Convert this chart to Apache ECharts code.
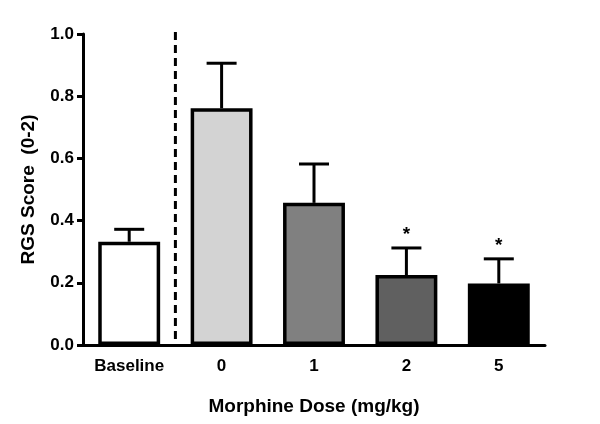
<!DOCTYPE html>
<html>
<head>
<meta charset="utf-8">
<script src="https://cdn.jsdelivr.net/npm/echarts@6/dist/echarts.min.js"></script>
<style>
  html, body { margin: 0; padding: 0; background: #fff; }
  #chart { width: 600px; height: 424px; }
</style>
</head>
<body>
<div id="chart"></div>
<script>
// data
const categories = ["Baseline", "0", "1", "2", "5"];
const means = [0.332, 0.761, 0.457, 0.225, 0.198];
const upperErr = [0.372, 0.906, 0.582, 0.312, 0.277];
const significant = [false, false, false, true, true];
const barColors = ["#ffffff", "#d3d3d3", "#808080", "#606060", "#000000"];
const yTicks = [0, 0.2, 0.4, 0.6, 0.8, 1.0];

const FONT = "Liberation Sans, Arial, sans-serif";
const chart = echarts.init(document.getElementById("chart"), null, { renderer: "canvas" });

// error bar (upper only) + asterisk + dashed separator after baseline
function renderErr(params, api) {
  const i = api.value(0);
  const base = api.coord([i, api.value(1)]);
  const top = api.coord([i, api.value(2)]);
  const band = api.size([1, 0])[0];
  const children = [
    { type: "line", shape: { x1: base[0], y1: base[1], x2: top[0], y2: top[1] },
      style: { stroke: "#000", lineWidth: 3 } },
    { type: "line", shape: { x1: top[0] - 15, y1: top[1], x2: top[0] + 15, y2: top[1] },
      style: { stroke: "#000", lineWidth: 3 } }
  ];
  if (significant[i]) {
    children.push({ type: "text", x: top[0], y: top[1] - 13,
      style: { text: "*", font: "bold 19px " + FONT, fill: "#000", align: "center", verticalAlign: "middle" } });
  }
  if (i === 0) {
    const x = base[0] + band / 2;
    const y0 = api.coord([i, 0])[1];
    const y1 = api.coord([i, yTicks[yTicks.length - 1]])[1];
    children.push({ type: "line", shape: { x1: x, y1: y1 - 2, x2: x, y2: y0 },
      style: { stroke: "#000", lineWidth: 3, lineDash: [8, 5] } });
  }
  return { type: "group", children: children };
}

chart.setOption({
  animation: false,
  backgroundColor: "#fff",
  grid: { left: 83, right: 55, top: 34, bottom: 79 },
  xAxis: {
    type: "category",
    data: categories,
    name: "Morphine Dose (mg/kg)",
    nameLocation: "middle",
    nameGap: 52,
    nameTextStyle: { color: "#000", fontSize: 19, fontWeight: "bold", fontFamily: FONT },
    axisLine: { lineStyle: { color: "#000", width: 3 } },
    axisTick: { alignWithLabel: true, length: 6, lineStyle: { color: "#000", width: 3 } },
    axisLabel: { color: "#000", fontSize: 17, fontWeight: "bold", fontFamily: FONT, margin: 13 }
  },
  yAxis: {
    type: "value",
    min: 0,
    max: 1.0,
    interval: 0.2,
    name: "RGS Score  (0-2)",
    nameLocation: "middle",
    nameGap: 45,
    nameTextStyle: { color: "#000", fontSize: 19, fontWeight: "bold", fontFamily: FONT },
    axisLine: { show: true, lineStyle: { color: "#000", width: 3 } },
    axisTick: { show: true, length: 6, lineStyle: { color: "#000", width: 3 } },
    splitLine: { show: false },
    axisLabel: { color: "#000", fontSize: 17, fontWeight: "bold", fontFamily: FONT, margin: 9,
      formatter: v => v.toFixed(1) }
  },
  series: [
    {
      type: "bar",
      barWidth: "67%",
      z: 2,
      data: means.map((v, i) => ({
        value: v,
        itemStyle: { color: barColors[i], borderColor: "#000", borderWidth: 3.5 }
      }))
    },
    {
      type: "custom",
      z: 1,
      renderItem: renderErr,
      data: means.map((v, i) => [i, v, upperErr[i]])
    }
  ]
});
</script>
</body>
</html>
